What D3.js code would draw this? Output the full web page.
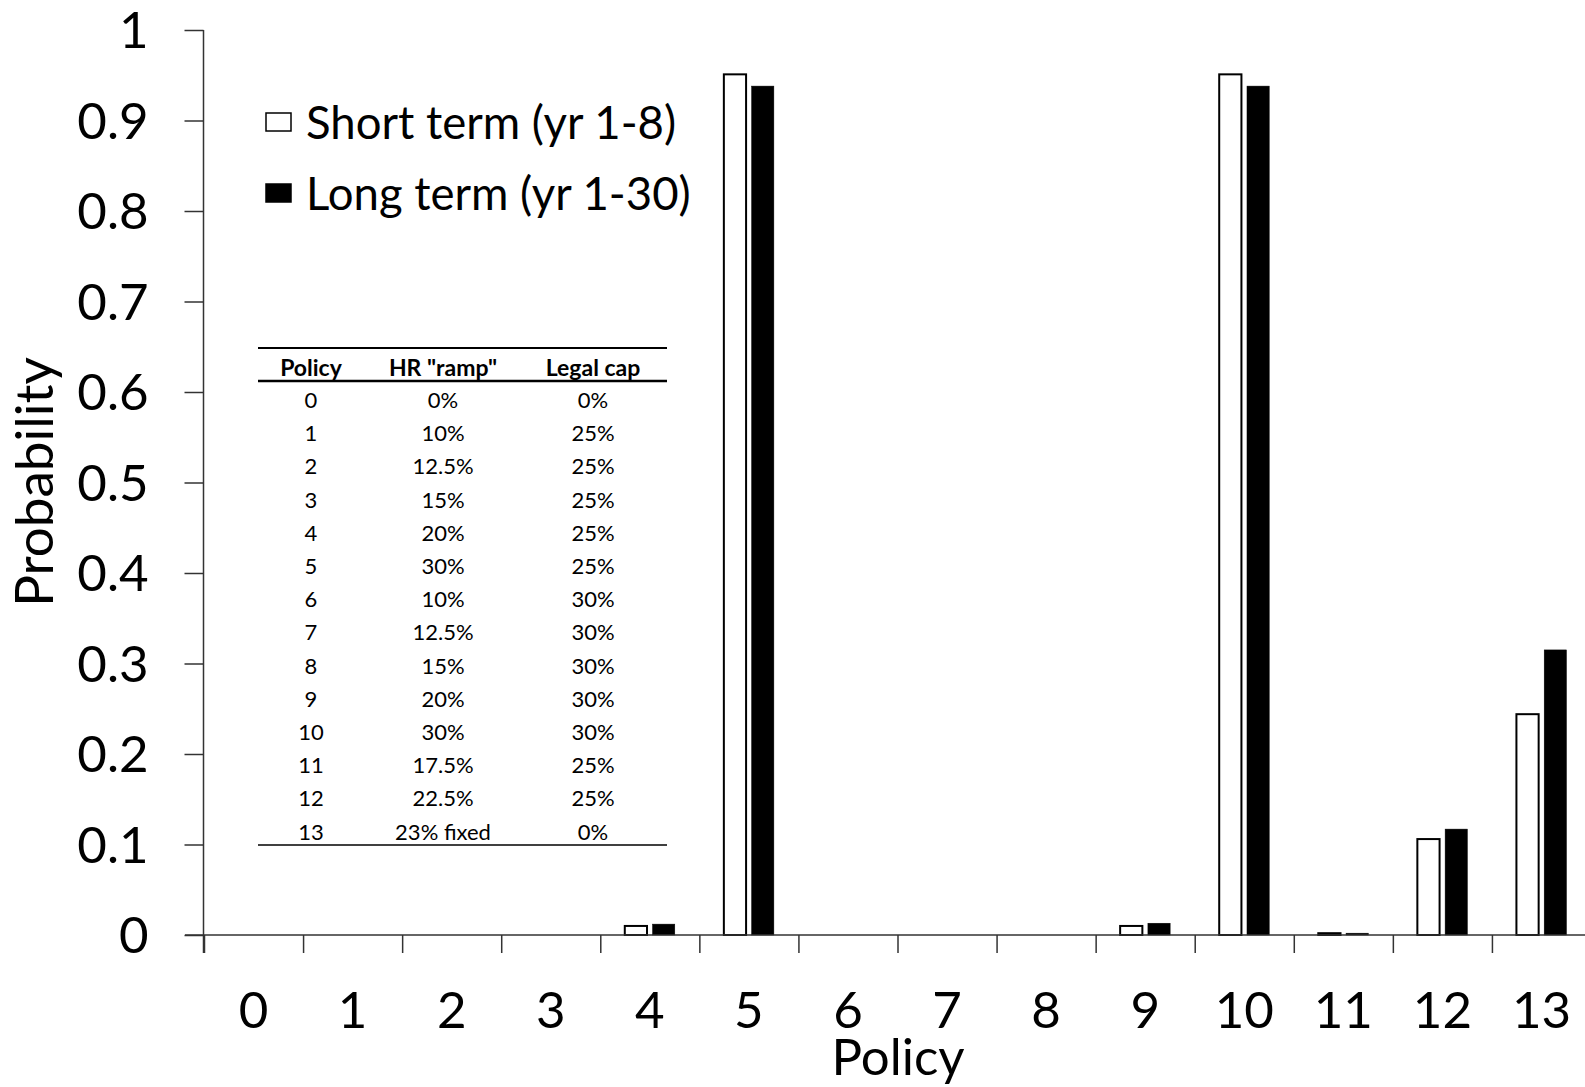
<!DOCTYPE html>
<html>
<head>
<meta charset="utf-8">
<script src="https://cdn.jsdelivr.net/npm/d3@7"></script>
<style>
  html, body { margin: 0; padding: 0; background: #fff; }
  svg { display: block; font-family: Lato, "Open Sans", sans-serif; }
</style>
</head>
<body>
<svg id="chart" width="1585" height="1087"></svg>
<script>
// ---- data ----
const categories = ["0","1","2","3","4","5","6","7","8","9","10","11","12","13"];
const shortTerm = [0, 0, 0, 0, 0.010, 0.951, 0, 0, 0, 0.010, 0.951, 0.002, 0.106, 0.244];
const longTerm  = [0, 0, 0, 0, 0.012, 0.938, 0, 0, 0, 0.013, 0.938, 0.002, 0.117, 0.315];
const seriesNames = ["Short term (yr 1-8)", "Long term (yr 1-30)"];
const yTicks = [0, 0.1, 0.2, 0.3, 0.4, 0.5, 0.6, 0.7, 0.8, 0.9, 1];
const yTickLabels = ["0","0.1","0.2","0.3","0.4","0.5","0.6","0.7","0.8","0.9","1"];
const tableHeader = ["Policy", "HR \"ramp\"", "Legal cap"];
const tablePolicy = ["0","1","2","3","4","5","6","7","8","9","10","11","12","13"];
const tableRamp = ["0%","10%","12.5%","15%","20%","30%","10%","12.5%","15%","20%","30%","17.5%","22.5%","23% fixed"];
const tableCap = ["0%","25%","25%","25%","25%","25%","30%","30%","30%","30%","30%","25%","25%","0%"];

// ---- layout ----
const svg = d3.select("#chart");
const X0 = 204, X1 = 1591, Y0 = 935, Y1 = 30;
const FS = 51;

const x = d3.scaleBand().domain(categories).range([X0, X1]).paddingInner(0).paddingOuter(0);
const xBound = d3.scaleLinear().domain([0, categories.length]).range([X0, X1]);
const x1 = d3.scaleBand().domain(seriesNames).range([24.5, 74.5]).paddingInner(0.2).paddingOuter(0);
const y = d3.scaleLinear().domain([0, 1]).range([Y0, Y1]);

const data = categories.map((c, i) => ({cat: c, vals: [
  {s: seriesNames[0], v: shortTerm[i]},
  {s: seriesNames[1], v: longTerm[i]}
]}));

// bars
const g = svg.append("g");
g.selectAll("g.cat").data(data).join("g")
  .attr("class", "cat")
  .attr("transform", d => `translate(${x(d.cat)},0)`)
  .selectAll("rect").data(d => d.vals.filter(e => e.v > 0)).join("rect")
  .attr("x", d => x1(d.s))
  .attr("width", x1.bandwidth())
  .attr("y", d => y(d.v))
  .attr("height", d => Y0 - y(d.v))
  .attr("fill", d => d.s === seriesNames[0] ? "#fff" : "#000")
  .attr("stroke", "#000")
  .attr("stroke-width", d => d.s === seriesNames[0] ? 2 : 0.5);

// y axis
const yAxis = d3.axisLeft(y).tickValues(yTicks)
  .tickFormat((d, i) => yTickLabels[i]).tickSize(19).tickPadding(36);
const yg = svg.append("g").attr("transform", `translate(${X0 - 0.5},0)`).call(yAxis);
yg.select(".domain").remove();
yg.selectAll(".tick line").attr("stroke", "#333").attr("stroke-width", 1.5);
yg.selectAll(".tick text").attr("font-size", FS).attr("font-family", "Lato").attr("fill", "#000").attr("dy", "0.35em");
svg.append("line").attr("x1", X0 - 0.5).attr("x2", X0 - 0.5).attr("y1", Y1).attr("y2", Y0 + 18)
  .attr("stroke", "#333").attr("stroke-width", 1.5);

// x axis boundary ticks
const xTickAxis = d3.axisBottom(xBound).tickValues(d3.range(0, categories.length + 1))
  .tickFormat("").tickSize(18).tickSizeOuter(0);
const xg = svg.append("g").attr("transform", `translate(0,${Y0})`).call(xTickAxis);
xg.select(".domain").remove();
xg.selectAll(".tick line").attr("stroke", "#333").attr("stroke-width", 1.5);
svg.append("line").attr("x1", 185).attr("x2", X1).attr("y1", Y0).attr("y2", Y0)
  .attr("stroke", "#333").attr("stroke-width", 1.5);

// x axis labels
const xLabAxis = d3.axisBottom(x).tickSize(0).tickPadding(57);
const xl = svg.append("g").attr("transform", `translate(0,${Y0})`).call(xLabAxis);
xl.select(".domain").remove();
xl.selectAll(".tick text").attr("font-size", FS).attr("font-family", "Lato").attr("fill", "#000").attr("dy", "0.71em");

// axis titles
svg.append("text").attr("x", 898).attr("y", 1075).attr("text-anchor", "middle")
  .attr("font-size", FS).text("Policy");
svg.append("text").attr("transform", "translate(53,482) rotate(-90)").attr("text-anchor", "middle")
  .attr("font-size", 53).text("Probability");

// legend
const leg = svg.append("g");
seriesNames.forEach((s, i) => {
  const yy = 113 + i * 71;
  leg.append("rect").attr("x", 266).attr("y", yy).attr("width", 25).attr("height", 18)
    .attr("fill", i === 0 ? "#fff" : "#000").attr("stroke", "#000").attr("stroke-width", 1.5);
  leg.append("text").attr("x", 306).attr("y", 139 + i * 71).attr("font-size", 45.5).text(s);
});

// table
const tb = svg.append("g");
const colX = [311, 443, 593];
const tL = 258, tR = 667;
tb.append("line").attr("x1", tL).attr("x2", tR).attr("y1", 348).attr("y2", 348).attr("stroke", "#000").attr("stroke-width", 2);
tb.append("line").attr("x1", tL).attr("x2", tR).attr("y1", 381).attr("y2", 381).attr("stroke", "#000").attr("stroke-width", 2.5);
tb.append("line").attr("x1", tL).attr("x2", tR).attr("y1", 845).attr("y2", 845).attr("stroke", "#000").attr("stroke-width", 1.5);
tableHeader.forEach((h, j) => {
  tb.append("text").attr("x", colX[j]).attr("y", 376).attr("text-anchor", "middle")
    .attr("font-size", 23).attr("font-weight", "bold").text(h);
});
const cols = [tablePolicy, tableRamp, tableCap];
cols.forEach((col, j) => {
  tb.selectAll(null).data(col).join("text")
    .attr("x", colX[j]).attr("y", (d, i) => 408 + i * 33.2)
    .attr("text-anchor", "middle").attr("font-size", 22).text(d => d);
});
</script>
</body>
</html>
